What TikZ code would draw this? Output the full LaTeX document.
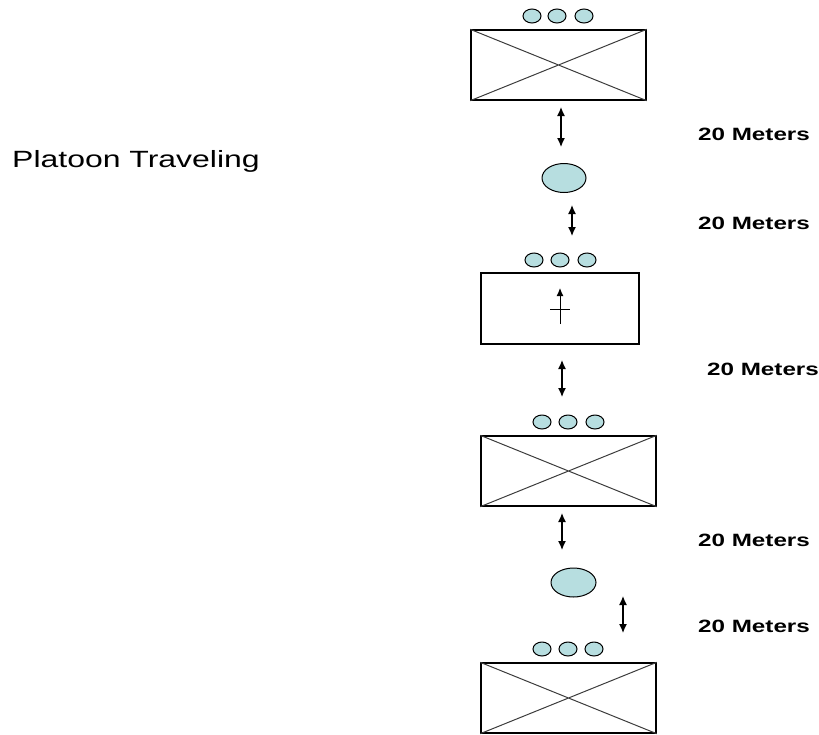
\documentclass[tikz,border=0pt]{standalone}
\usepackage{fontspec}
\setmainfont{Liberation Sans}
\usetikzlibrary{shapes.geometric,arrows.meta}
\definecolor{crew}{RGB}{183,222,224}
\definecolor{xline}{RGB}{60,60,60}
\newcommand{\wide}[1]{\scalebox{1.36}[1]{#1}}
\tikzset{
  vehicle/.style={draw, line width=1.3pt, inner sep=0, minimum height=70pt},
  xmark/.style={draw=xline, line width=1pt},
  crewman/.style={ellipse, draw, fill=crew, line width=1pt, inner sep=0, minimum width=18pt, minimum height=14pt},
  scout/.style={ellipse, draw, fill=crew, line width=1pt, inner sep=0, minimum width=44pt, minimum height=29pt},
  gap/.style={{Latex[length=9pt,width=8pt]}-{Latex[length=9pt,width=8pt]}, line width=1.3pt},
  dist/.style={inner sep=0, anchor=base west, font=\fontsize{17.8}{20}\selectfont\bfseries},
}
\begin{document}
\begin{tikzpicture}[x=1pt,y=-1pt]
\useasboundingbox (0,0) rectangle (819,734);
\node[inner sep=0, anchor=base west, font=\fontsize{23.5}{26}\selectfont] (title) at (12,167) {\wide{Platoon Traveling}};

% lead vehicle
\node[vehicle, minimum width=175pt] (v1) at (558.5,65) {};
\draw[xmark] (v1.north west) -- (v1.south east) (v1.north east) -- (v1.south west);
\foreach \x [count=\i] in {532,557,584} \node[crewman] (c1\i) at (\x,16) {};

\coordinate (a1t) at (561,107); \coordinate (a1b) at (561,147);
\draw[gap] (a1t) -- (a1b);
\node[dist] (d1) at (698,140) {\wide{20 Meters}};

\node[scout] (s1) at (564,178) {};

\coordinate (a2t) at (572,205); \coordinate (a2b) at (572,236);
\draw[gap] (a2t) -- (a2b);
\node[dist] (d2) at (698,229) {\wide{20 Meters}};

% leader
\node[vehicle, minimum width=158pt, minimum height=71pt] (v2) at (560,308.5) {};
\foreach \x [count=\i] in {534,560,587} \node[crewman] (c2\i) at (\x,260) {};
\coordinate (pb) at (560,324); \coordinate (pt) at (560,288);
\coordinate (pl) at (550,309); \coordinate (pr) at (570,309);
\draw[-{Latex[length=8pt,width=7pt]}, line width=1pt] (pb) -- (pt);
\draw[line width=1pt] (pl) -- (pr);

\coordinate (a3t) at (562,360); \coordinate (a3b) at (562,397);
\draw[gap] (a3t) -- (a3b);
\node[dist] (d3) at (707,375) {\wide{20 Meters}};

% second vehicle
\node[vehicle, minimum width=175pt] (v3) at (568.5,471) {};
\draw[xmark] (v3.north west) -- (v3.south east) (v3.north east) -- (v3.south west);
\foreach \x [count=\i] in {542,568,595} \node[crewman] (c3\i) at (\x,422) {};

\coordinate (a4t) at (562,513); \coordinate (a4b) at (562,550);
\draw[gap] (a4t) -- (a4b);
\node[dist] (d4) at (698,546) {\wide{20 Meters}};

\node[scout, minimum width=45pt] (s2) at (573.5,582.5) {};

\coordinate (a5t) at (623,596); \coordinate (a5b) at (623,633);
\draw[gap] (a5t) -- (a5b);
\node[dist] (d5) at (698,632) {\wide{20 Meters}};

% trail vehicle
\node[vehicle, minimum width=175pt] (v4) at (568.5,698) {};
\draw[xmark] (v4.north west) -- (v4.south east) (v4.north east) -- (v4.south west);
\foreach \x [count=\i] in {542,568,594} \node[crewman] (c4\i) at (\x,649) {};
\end{tikzpicture}
\end{document}
